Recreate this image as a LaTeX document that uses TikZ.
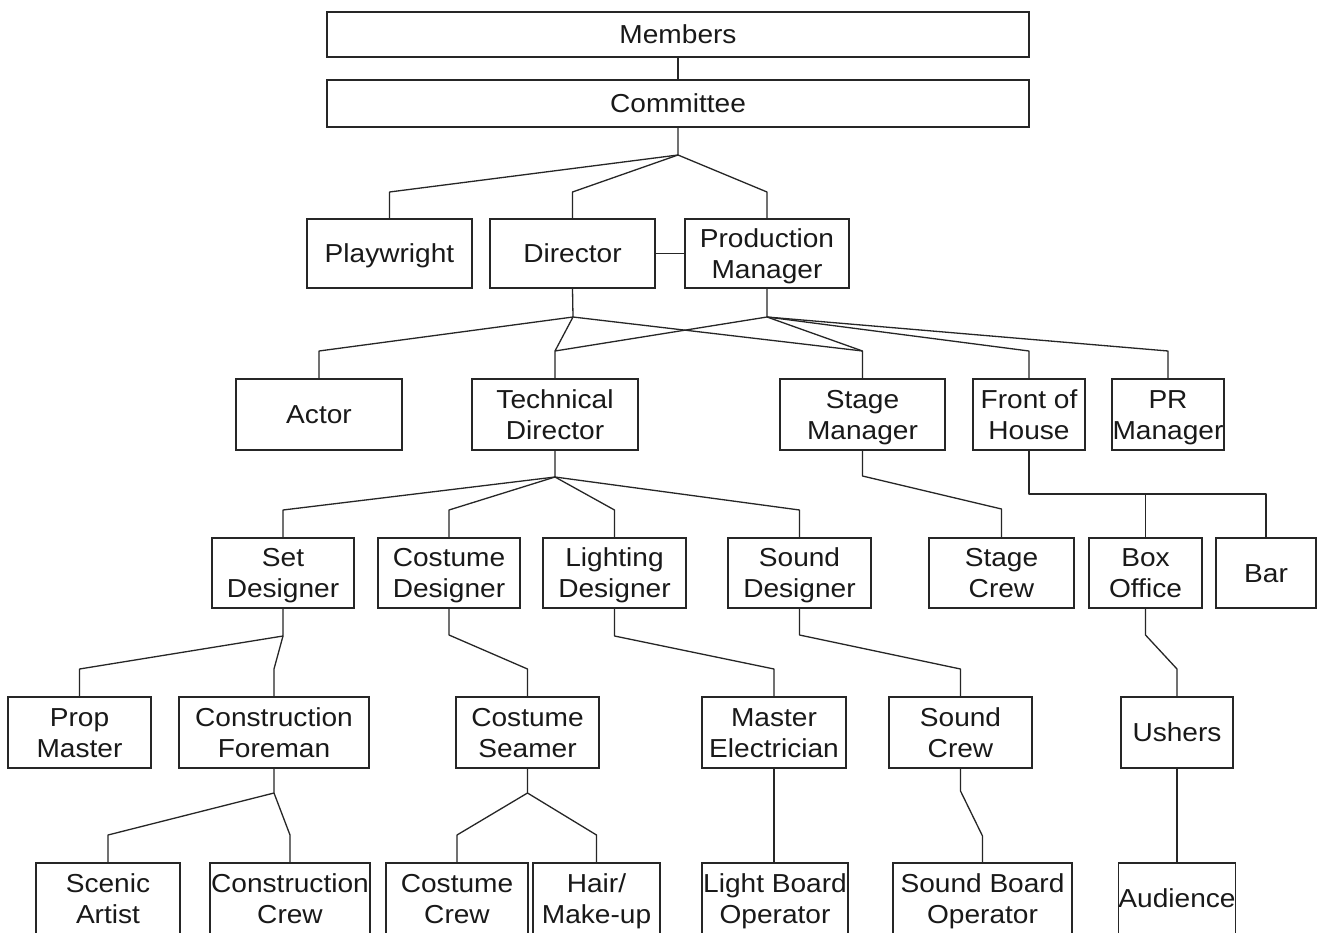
\documentclass[tikz,border=0pt]{standalone}
\usepackage{fontspec}
\setmainfont{Liberation Sans}[FakeStretch=1.08]
\newcommand{\up}{\rule{0pt}{25pt}}
\newcommand{\dn}{\rule[-6.5pt]{0pt}{6.5pt}}
\newcommand{\tl}[2]{\up#1\\#2\dn}
\newcommand{\ol}[1]{\up#1\dn}
\begin{document}
\begin{tikzpicture}[x=1pt,y=-1pt,
  box/.style={draw=black!85,line width=1.4pt,rectangle,inner sep=0pt,align=center,
    font=\fontsize{26}{31}\selectfont,text=black!90},
  conn/.style={draw=black!85,line width=1.3pt,line join=round}]
\useasboundingbox[fill=white] (0,0) rectangle (1320,932);
% row 0/1
\node[box,minimum width=702,minimum height=45] (members) at (678,34.5) {\ol{Members}};
\node[box,minimum width=702,minimum height=47] (committee) at (678,103.5) {\ol{Committee}};
% row 2
\node[box,minimum width=165,minimum height=69] (playwright) at (389.5,253.5) {\ol{Playwright}};
\node[box,minimum width=165,minimum height=69] (director) at (572.5,253.5) {\ol{Director}};
\node[box,minimum width=164,minimum height=69] (pm) at (767,253.5) {\tl{Production}{Manager}};
% row 3
\node[box,minimum width=166,minimum height=71] (actor) at (319,414.5) {\ol{Actor}};
\node[box,minimum width=166,minimum height=71] (td) at (555,414.5) {\tl{Technical}{Director}};
\node[box,minimum width=165,minimum height=71] (sm) at (862.5,414.5) {\tl{Stage}{Manager}};
\node[box,minimum width=112,minimum height=71] (foh) at (1029,414.5) {\tl{Front of}{House}};
\node[box,minimum width=112,minimum height=71] (pr) at (1168,414.5) {\tl{PR}{Manager}};
% row 4
\node[box,minimum width=142,minimum height=70] (set) at (283,573) {\tl{Set}{Designer}};
\node[box,minimum width=142,minimum height=70] (cd) at (449,573) {\tl{Costume}{Designer}};
\node[box,minimum width=143,minimum height=70] (ld) at (614.5,573) {\tl{Lighting}{Designer}};
\node[box,minimum width=143,minimum height=70] (sd) at (799.5,573) {\tl{Sound}{Designer}};
\node[box,minimum width=145,minimum height=70] (stc) at (1001.5,573) {\tl{Stage}{Crew}};
\node[box,minimum width=113,minimum height=70] (bo) at (1145.5,573) {\tl{Box}{Office}};
\node[box,minimum width=100,minimum height=70] (bar) at (1266,573) {\ol{Bar}};
% row 5
\node[box,minimum width=143,minimum height=71] (prop) at (79.5,732.5) {\tl{Prop}{Master}};
\node[box,minimum width=190,minimum height=71] (cf) at (274,732.5) {\tl{Construction}{Foreman}};
\node[box,minimum width=143,minimum height=71] (cs) at (527.5,732.5) {\tl{Costume}{Seamer}};
\node[box,minimum width=144,minimum height=71] (me) at (774,732.5) {\tl{Master}{Electrician}};
\node[box,minimum width=143,minimum height=71] (sc) at (960.5,732.5) {\tl{Sound}{Crew}};
\node[box,minimum width=112,minimum height=71] (ush) at (1177,732.5) {\ol{Ushers}};
% row 6
\node[box,minimum width=144,minimum height=71] (sa) at (108,898.5) {\tl{Scenic}{Artist}};
\node[box,minimum width=160,minimum height=71] (ccrew) at (290,898.5) {\tl{Construction}{Crew}};
\node[box,minimum width=142,minimum height=71] (cocrew) at (457,898.5) {\tl{Costume}{Crew}};
\node[box,minimum width=127,minimum height=71] (hair) at (596.5,898.5) {\tl{Hair/}{Make-up}};
\node[box,minimum width=146,minimum height=71] (lbo) at (775,898.5) {\tl{Light Board}{Operator}};
\node[box,minimum width=179,minimum height=71] (sbo) at (982.5,898.5) {\tl{Sound Board}{Operator}};
\node[box,minimum width=112,minimum height=71] (aud) at (1177,898.5) {\ol{Audience}};
% junctions
\coordinate (j1) at (678,155);
\coordinate (jD) at (573,317);
\coordinate (jP) at (767,317);
\coordinate (jT) at (555,477);
% connectors
\draw[conn] (members.south) -- (committee.north);
\draw[conn] (committee.south) -- (j1) -- (playwright.north |- 0,192) -- (playwright.north);
\draw[conn] (j1) -- (director.north |- 0,192) -- (director.north);
\draw[conn] (j1) -- (pm.north |- 0,192) -- (pm.north);
\draw[conn] (director.east) -- (pm.west);
\draw[conn] (director.south) -- (jD) -- (actor.north |- 0,351) -- (actor.north);
\draw[conn] (jD) -- (td.north |- 0,351) -- (td.north);
\draw[conn] (jD) -- (sm.north |- 0,351) -- (sm.north);
\draw[conn] (pm.south) -- (jP) -- (td.north |- 0,351);
\draw[conn] (jP) -- (sm.north |- 0,351);
\draw[conn] (jP) -- (foh.north |- 0,351) -- (foh.north);
\draw[conn] (jP) -- (pr.north |- 0,351) -- (pr.north);
\draw[conn] (td.south) -- (jT) -- (set.north |- 0,510) -- (set.north);
\draw[conn] (jT) -- (cd.north |- 0,510) -- (cd.north);
\draw[conn] (jT) -- (ld.north |- 0,510) -- (ld.north);
\draw[conn] (jT) -- (sd.north |- 0,510) -- (sd.north);
\draw[conn] (sm.south) -- (sm.south |- 0,476) -- (stc.north |- 0,509) -- (stc.north);
\draw[conn] (foh.south) -- (foh.south |- 0,494) -- (bar.north |- 0,494) -- (bar.north);
\draw[conn] (bo.north |- 0,494) -- (bo.north);
\draw[conn] (set.south) -- (set.south |- 0,636) coordinate (jS) -- (prop.north |- 0,669) -- (prop.north);
\draw[conn] (jS) -- (cf.north |- 0,669) -- (cf.north);
\draw[conn] (cd.south) -- (cd.south |- 0,635) -- (cs.north |- 0,669) -- (cs.north);
\draw[conn] (ld.south) -- (ld.south |- 0,636) -- (me.north |- 0,669) -- (me.north);
\draw[conn] (sd.south) -- (sd.south |- 0,635) -- (sc.north |- 0,669) -- (sc.north);
\draw[conn] (bo.south) -- (bo.south |- 0,635) -- (ush.north |- 0,669) -- (ush.north);
\draw[conn] (cf.south) -- (cf.south |- 0,793) coordinate (jF) -- (sa.north |- 0,835) -- (sa.north);
\draw[conn] (jF) -- (ccrew.north |- 0,835) -- (ccrew.north);
\draw[conn] (cs.south) -- (cs.south |- 0,793) coordinate (jC) -- (cocrew.north |- 0,835) -- (cocrew.north);
\draw[conn] (jC) -- (hair.north |- 0,835) -- (hair.north);
\draw[conn] (me.south) -- (me.south |- lbo.north);
\draw[conn] (sc.south) -- (sc.south |- 0,791) -- (sbo.north |- 0,836) -- (sbo.north);
\draw[conn] (ush.south) -- (aud.north);
\end{tikzpicture}
\end{document}
